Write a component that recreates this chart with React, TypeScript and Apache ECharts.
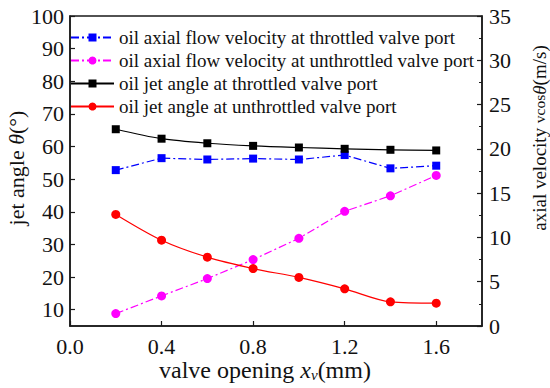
import React, { useEffect, useRef } from "react";
import * as echarts from "echarts";

const xValues = [0.2, 0.4, 0.6, 0.8, 1.0, 1.2, 1.4, 1.6];
const axialThrottled = [17.6, 18.95, 18.8, 18.9, 18.8, 19.3, 17.8, 18.1];
const axialUnthrottled = [1.4, 3.4, 5.35, 7.5, 9.9, 12.95, 14.7, 17.0];
const jetThrottled = [65.3, 62.4, 61.0, 60.2, 59.7, 59.3, 59.0, 58.8];
const jetUnthrottled = [39.2, 31.3, 26.1, 22.6, 19.9, 16.4, 12.4, 12.0];
const xTicks = [0, 0.4, 0.8, 1.2, 1.6];
const leftTicks = [10, 20, 30, 40, 50, 60, 70, 80, 90, 100];

const seriesNames = [
  "oil axial flow velocity at throttled valve port",
  "oil axial flow velocity at unthrottled valve port",
  "oil jet angle at throttled valve port",
  "oil jet angle at unthrottled valve port",
];

const FONT = "Liberation Serif";

const pair = (ys: number[]) => xValues.map((x, i) => [x, ys[i]]);

export default function App() {
  const ref = useRef<HTMLDivElement>(null);
  useEffect(() => {
    document.body.style.margin = "0";
    if (!ref.current) return;
    const chart = echarts.init(ref.current, undefined, { renderer: "svg" });
    const axisColor = "#1a1a1a";
    const labelStyle = { color: "#111", fontFamily: FONT, fontSize: 22 };
    chart.setOption({
      animation: false,
      backgroundColor: "#fff",
      grid: {
        left: 70,
        right: 68,
        top: 16,
        bottom: 62,
        show: true,
        borderColor: axisColor,
        borderWidth: 1.5,
      },
      legend: {
        left: 70,
        top: 28,
        padding: 0,
        orient: "vertical",
        itemWidth: 43,
        itemHeight: 10,
        itemGap: 4,
        textStyle: { fontFamily: FONT, fontSize: 19, color: "#111" },
        data: seriesNames,
      },
      xAxis: {
        type: "value",
        min: 0,
        max: 1.8,
        axisLine: { show: true, lineStyle: { color: axisColor, width: 1.5 } },
        axisTick: {
          inside: true,
          length: 5,
          customValues: xTicks,
          lineStyle: { color: axisColor, width: 1.2 },
        },
        axisLabel: {
          ...labelStyle,
          margin: 9,
          customValues: xTicks,
          formatter: (v: number) => v.toFixed(1),
        },
        splitLine: { show: false },
      },
      yAxis: [
        {
          type: "value",
          min: 5,
          max: 100,
          position: "left",
          axisLine: { show: true, lineStyle: { color: axisColor, width: 1.5 } },
          axisTick: {
            inside: true,
            length: 5,
            customValues: leftTicks,
            lineStyle: { color: axisColor, width: 1.2 },
          },
          axisLabel: { ...labelStyle, margin: 6, customValues: leftTicks },
          splitLine: { show: false },
        },
        {
          type: "value",
          min: 0,
          max: 35,
          interval: 5,
          position: "right",
          axisLine: { show: true, lineStyle: { color: axisColor, width: 1.5 } },
          axisTick: {
            inside: true,
            length: 5,
            lineStyle: { color: axisColor, width: 1.2 },
          },
          minorTick: {
            show: true,
            splitNumber: 2,
            length: 3,
            lineStyle: { color: axisColor, width: 1 },
          },
          axisLabel: { ...labelStyle, margin: 7 },
          splitLine: { show: false },
        },
      ],
      series: [
        {
          name: seriesNames[0],
          type: "line",
          yAxisIndex: 1,
          data: pair(axialThrottled),
          symbol: "rect",
          symbolSize: 8,
          itemStyle: { color: "#0000ff" },
          lineStyle: { color: "#0000ff", width: 1.2, type: [8, 3, 2, 3] },
        },
        {
          name: seriesNames[1],
          type: "line",
          yAxisIndex: 1,
          data: pair(axialUnthrottled),
          symbol: "circle",
          symbolSize: 9,
          itemStyle: { color: "#ff00ff" },
          lineStyle: { color: "#ff00ff", width: 1.2, type: [8, 3, 2, 3] },
        },
        {
          name: seriesNames[2],
          type: "line",
          yAxisIndex: 0,
          data: pair(jetThrottled),
          symbol: "rect",
          symbolSize: 8,
          smooth: 0.3,
          itemStyle: { color: "#000" },
          lineStyle: { color: "#000", width: 1.2 },
        },
        {
          name: seriesNames[3],
          type: "line",
          yAxisIndex: 0,
          data: pair(jetUnthrottled),
          symbol: "circle",
          symbolSize: 9,
          smooth: 0.3,
          itemStyle: { color: "#ff0000" },
          lineStyle: { color: "#ff0000", width: 1.2 },
        },
      ],
      graphic: [
        {
          type: "text",
          x: 16,
          y: 168,
          rotation: Math.PI / 2,
          style: {
            text: "jet angle {i|θ}(°)",
            fontFamily: FONT,
            fontSize: 22,
            fill: "#111",
            align: "center",
            verticalAlign: "middle",
            rich: { i: { fontStyle: "italic", fontFamily: FONT, fontSize: 22, fill: "#111" } },
          },
        },
        {
          type: "text",
          x: 539,
          y: 138,
          rotation: Math.PI / 2,
          style: {
            text: "axial velocity {s|vcos}{i|θ}(m/s)",
            fontFamily: FONT,
            fontSize: 19,
            fill: "#111",
            align: "center",
            verticalAlign: "middle",
            rich: {
              s: { fontFamily: FONT, fontSize: 15.5, fill: "#111" },
              i: { fontStyle: "italic", fontFamily: FONT, fontSize: 19, fill: "#111" },
            },
          },
        },
        {
          type: "text",
          x: 265,
          y: 370,
          style: {
            text: "valve opening {i|x}{sub|v}(mm)",
            fontFamily: FONT,
            fontSize: 24,
            fill: "#111",
            align: "center",
            verticalAlign: "middle",
            rich: {
              i: { fontStyle: "italic", fontFamily: FONT, fontSize: 24, fill: "#111" },
              sub: {
                fontStyle: "italic",
                fontFamily: FONT,
                fontSize: 15,
                fill: "#111",
                padding: [10, 0, 0, 0],
              },
            },
          },
        },
      ],
    });
    return () => chart.dispose();
  }, []);
  return <div ref={ref} style={{ width: 550, height: 388 }} />;
}
